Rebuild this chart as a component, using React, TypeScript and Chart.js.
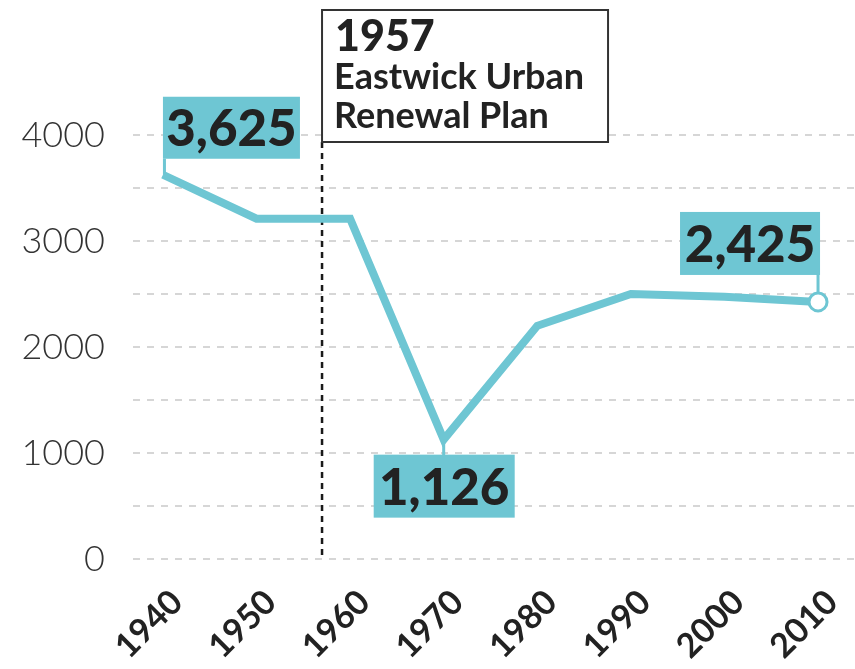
import React, { useEffect, useRef } from "react";
import { Chart, registerables } from "chart.js";

Chart.register(...registerables);

const years = [1940, 1950, 1960, 1970, 1980, 1990, 2000, 2010];
const population = [3625, 3210, 3210, 1126, 2200, 2500, 2475, 2425];
const yTickLabels = ["0", "1000", "2000", "3000", "4000"];
const eventYear = 1957;
const eventLines = ["1957", "Eastwick Urban", "Renewal Plan"];

const TEAL = "#6ec6d3";
const FONT = "Lato, 'Open Sans', sans-serif";

const fmt = (v: number) => v.toLocaleString("en-US");

const overlay = {
  id: "overlay",
  beforeDatasetsDraw(chart: any) {
    const { ctx, scales } = chart;
    const x = scales.x.getPixelForValue(eventYear);
    ctx.save();
    ctx.strokeStyle = "#1a1a1a";
    ctx.lineWidth = 2.5;
    ctx.setLineDash([6, 5]);
    ctx.beginPath();
    ctx.moveTo(x, 142);
    ctx.lineTo(x, scales.y.getPixelForValue(0));
    ctx.stroke();
    ctx.restore();
  },
  afterDatasetsDraw(chart: any) {
    const { ctx, scales } = chart;
    const X = (i: number) => scales.x.getPixelForValue(years[i]);
    const Y = (i: number) => scales.y.getPixelForValue(population[i]);
    const box = (x: number, y: number, w: number, h: number, text: string) => {
      ctx.fillStyle = TEAL;
      ctx.fillRect(x, y, w, h);
      ctx.fillStyle = "#222";
      ctx.font = `900 51px ${FONT}`;
      ctx.textAlign = "center";
      ctx.textBaseline = "middle";
      ctx.fillText(text, x + w / 2, y + h / 2 + 2);
    };
    ctx.save();
    {
      const px = X(0), py = Y(0);
      ctx.fillStyle = TEAL;
      ctx.fillRect(px, py - 16, 3, 16);
      box(px, py - 78, 137, 62, fmt(population[0]));
    }
    {
      const px = X(3), py = Y(3);
      ctx.fillStyle = TEAL;
      ctx.fillRect(px - 1.5, py, 3, 16);
      box(px - 70, py + 15, 141, 63, fmt(population[3]));
    }
    {
      const last = years.length - 1;
      const px = X(last), py = Y(last);
      ctx.fillStyle = TEAL;
      ctx.fillRect(px - 1.5, py - 30, 3, 22);
      box(px - 138, py - 90, 140, 63, fmt(population[last]));
    }
    {
      const x = scales.x.getPixelForValue(eventYear);
      ctx.fillStyle = "#fff";
      ctx.fillRect(x, 10, 286, 132);
      ctx.strokeStyle = "#333";
      ctx.lineWidth = 2;
      ctx.strokeRect(x, 10, 286, 132);
      ctx.fillStyle = "#222";
      ctx.textAlign = "left";
      ctx.textBaseline = "alphabetic";
      ctx.font = `900 43px ${FONT}`;
      ctx.fillText(eventLines[0], x + 13, 51);
      ctx.font = `700 36px ${FONT}`;
      ctx.fillText(eventLines[1], x + 12, 89);
      ctx.fillText(eventLines[2], x + 12, 128);
    }
    ctx.restore();
  },
};

export default function App() {
  const ref = useRef<HTMLCanvasElement | null>(null);
  useEffect(() => {
    document.body.style.margin = "0";
    document.body.style.overflow = "hidden";
    const chart = new Chart(ref.current as HTMLCanvasElement, {
      type: "line",
      data: {
        labels: years.map(String),
        datasets: [
          {
            data: years.map((y, i) => ({ x: y, y: population[i] })),
            borderColor: TEAL,
            borderWidth: 8,
            borderJoinStyle: "miter",
            tension: 0,
            pointRadius: years.map((_, i) => (i === years.length - 1 ? 9 : 0)),
            pointBackgroundColor: "#fff",
            pointBorderColor: TEAL,
            pointBorderWidth: 3,
            clip: false as any,
          },
        ],
      },
      options: {
        animation: false,
        responsive: false,
        maintainAspectRatio: false,
        devicePixelRatio: 1,
        layout: { padding: { top: 135, left: 0, right: 0, bottom: 0 }, autoPadding: false } as any,
        plugins: { legend: { display: false }, tooltip: { enabled: false } },
        scales: {
          x: {
            type: "linear",
            min: 1936.8,
            max: 2013.95,
            afterBuildTicks: (s: any) => {
              s.ticks = years.map((v) => ({ value: v }));
            },
            afterFit: (s: any) => {
              s.height = 110;
              s.paddingLeft = 0;
              s.paddingRight = 0;
              s.paddingTop = 0;
              s.paddingBottom = 0;
            },
            grid: { display: false, drawTicks: false },
            border: { display: false },
            ticks: {
              minRotation: 45,
              maxRotation: 45,
              padding: 23,
              labelOffset: 14,
              color: "#222",
              font: { family: FONT, size: 34, weight: "700" as any },
              callback: (v: any) => String(v),
            },
          },
          y: {
            min: 0,
            max: 4000,
            afterFit: (s: any) => {
              s.width = 133;
              s.paddingTop = 0;
              s.paddingBottom = 0;
              s.paddingLeft = 0;
              s.paddingRight = 0;
            },
            grid: {
              color: "#d6d6d6",
              lineWidth: 2,
              drawTicks: false,
            },
            border: { display: false, dash: [7, 7] },
            ticks: {
              stepSize: 500,
              padding: 28,
              color: "#333",
              font: { family: FONT, size: 36, weight: "300" as any },
              callback: (v: any) => (yTickLabels.includes(String(v)) ? String(v) : ""),
            },
          },
        },
      },
      plugins: [overlay],
    });
    return () => chart.destroy();
  }, []);
  return (
    <div style={{ position: "absolute", left: 0, top: 0, width: 855, height: 669, overflow: "hidden" }}>
      <canvas ref={ref} width={855} height={669} style={{ display: "block", width: 855, height: 669 }} />
    </div>
  );
}
